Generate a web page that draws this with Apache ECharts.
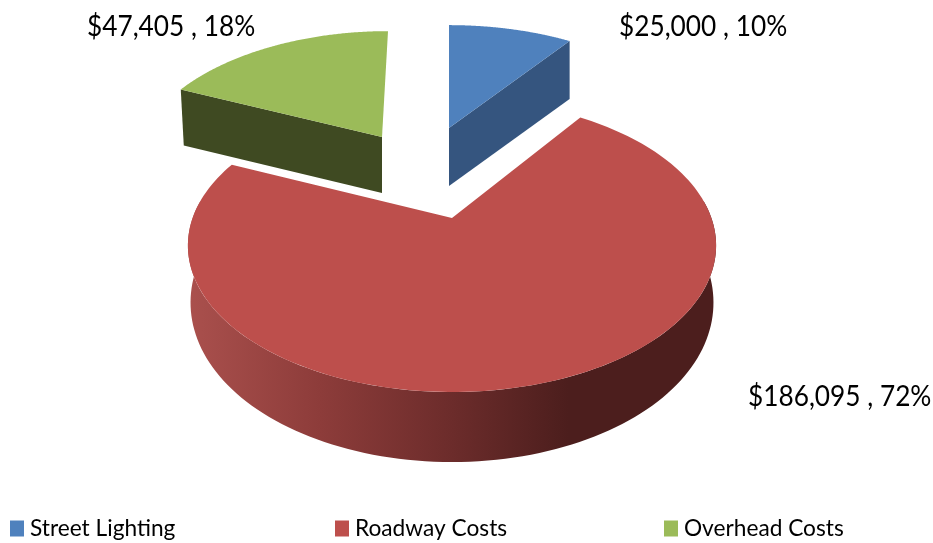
<!DOCTYPE html>
<html>
<head>
<meta charset="utf-8">
<style>html,body{margin:0;padding:0;background:#fff}#c{width:933px;height:543px}</style>
<script src="https://cdn.jsdelivr.net/npm/echarts@6/dist/echarts.min.js"></script>
</head>
<body>
<div id="c"></div>
<script>
const categories = ['Street Lighting', 'Roadway Costs', 'Overhead Costs'];
const values = [25000, 186095, 47405];
const topColors = ['#4f81bd', '#bd4f4c', '#9bbb59'];
const sideColors = ['#35557f', '#6b2b2a', '#3f4a22'];

const total = values.reduce((a, b) => a + b, 0);
const FONT = 'Lato, "Open Sans", sans-serif';

// Perspective disc: angle clockwise from the back of the pie, radius 1.
const B = 259.4, A = 141.3, K = 0.188;
function project(theta) {
  const u = Math.sin(theta), v = Math.cos(theta), d = 1 + K * v;
  return { x: B * u / d, y: -A * v / d, v: v };
}

// Per-slice placement (apex on the page, scale of the exploded slices, label anchor).
const slices = [
  { ax: 449, ay: 128, sx: 0.94, sy: 0.865, lean: 0, depth: 58, labelX: 619, labelY: 27 },
  { ax: 452, ay: 218, sx: 1, sy: 1, lean: 0, depth: 0, labelX: 748, labelY: 397 },
  { ax: 382, ay: 137, sx: 0.925, sy: 0.89, lean: 6, depth: 56, labelX: 87, labelY: 27 }
];

function range(i) {
  let start = 0;
  for (let k = 0; k < i; k++) start += values[k];
  return [start / total * Math.PI * 2, (start + values[i]) / total * Math.PI * 2];
}
function rimPoint(s, theta) {
  const p = project(theta);
  return [s.ax + p.x * s.sx + s.lean * p.v, s.ay + p.y * s.sy];
}
function labelText(v) {
  return '$' + v.toLocaleString('en-US') + ' , ' + Math.round(v / total * 100) + '%';
}
function sample(a, b, n) {
  const out = [];
  for (let i = 0; i <= n; i++) out.push(a + (b - a) * i / n);
  return out;
}

function renderSlice(i) {
  return function (params, api) {
    const s = slices[i];
    const [a, b] = range(i);
    const children = [];
    const apex = [s.ax, s.ay];
    const top = sample(a, b, 160).map(t => rimPoint(s, t));
    if (i === 1) {
      // front wall of the large slice, from its rim down to the lower rim
      const front = sample(Math.PI * 0.46, Math.PI * 1.54, 120);
      const upper = front.map(t => rimPoint(s, t));
      const lower = front.map(t => {
        const p = project(t);
        return [s.ax + p.x * 0.99, s.ay + p.y + 54 - 16 * p.v];
      }).reverse();
      children.push({
        type: 'polygon',
        shape: { points: upper.concat(lower) },
        style: {
          fill: new echarts.graphic.LinearGradient(188, 0, 716, 0, [
            { offset: 0, color: '#aa504d' },
            { offset: 0.25, color: '#8d3c3a' },
            { offset: 0.5, color: '#6c2c2b' },
            { offset: 0.72, color: '#4c1e1d' },
            { offset: 1, color: '#4c1e1d' }
          ], true)
        }
      });
    } else {
      // straight cut wall facing the viewer
      const edge = i === 0 ? rimPoint(s, b) : rimPoint(s, a);
      children.push({
        type: 'polygon',
        shape: { points: [apex, edge, [edge[0] + (i === 2 ? 3 : 0), edge[1] + s.depth], [s.ax, s.ay + s.depth]] },
        style: { fill: sideColors[i] }
      });
    }
    children.push({
      type: 'polygon',
      shape: { points: [apex].concat(top) },
      style: { fill: topColors[i] }
    });
    children.push({
      type: 'text',
      x: s.labelX,
      y: s.labelY,
      scaleX: 0.905,
      style: {
        x: 0, y: 0,
        text: labelText(api.value(0)),
        fill: '#000', font: '29px ' + FONT,
        textAlign: 'left', textVerticalAlign: 'middle'
      }
    });
    return { type: 'group', children: children };
  };
}

const drawOrder = [1, 2, 0];
const legendLeft = [10, 335, 664];

const chart = echarts.init(document.getElementById('c'), null, { renderer: 'canvas' });
chart.setOption({
  animation: false,
  backgroundColor: '#fff',
  legend: categories.map((name, i) => ({
    data: [name],
    left: legendLeft[i],
    top: 517,
    icon: 'rect',
    itemWidth: 14,
    itemHeight: 16,
    itemGap: 0,
    align: 'left',
    selectedMode: false,
    textStyle: { color: '#000', fontFamily: FONT, fontSize: 22.7, padding: [6, 0, 0, 1] },
    padding: 0
  })),
  series: drawOrder.map(i => ({
    type: 'custom',
    name: categories[i],
    coordinateSystem: 'none',
    itemStyle: { color: topColors[i] },
    data: [[values[i]]],
    renderItem: renderSlice(i),
    silent: true
  }))
});
</script>
</body>
</html>
